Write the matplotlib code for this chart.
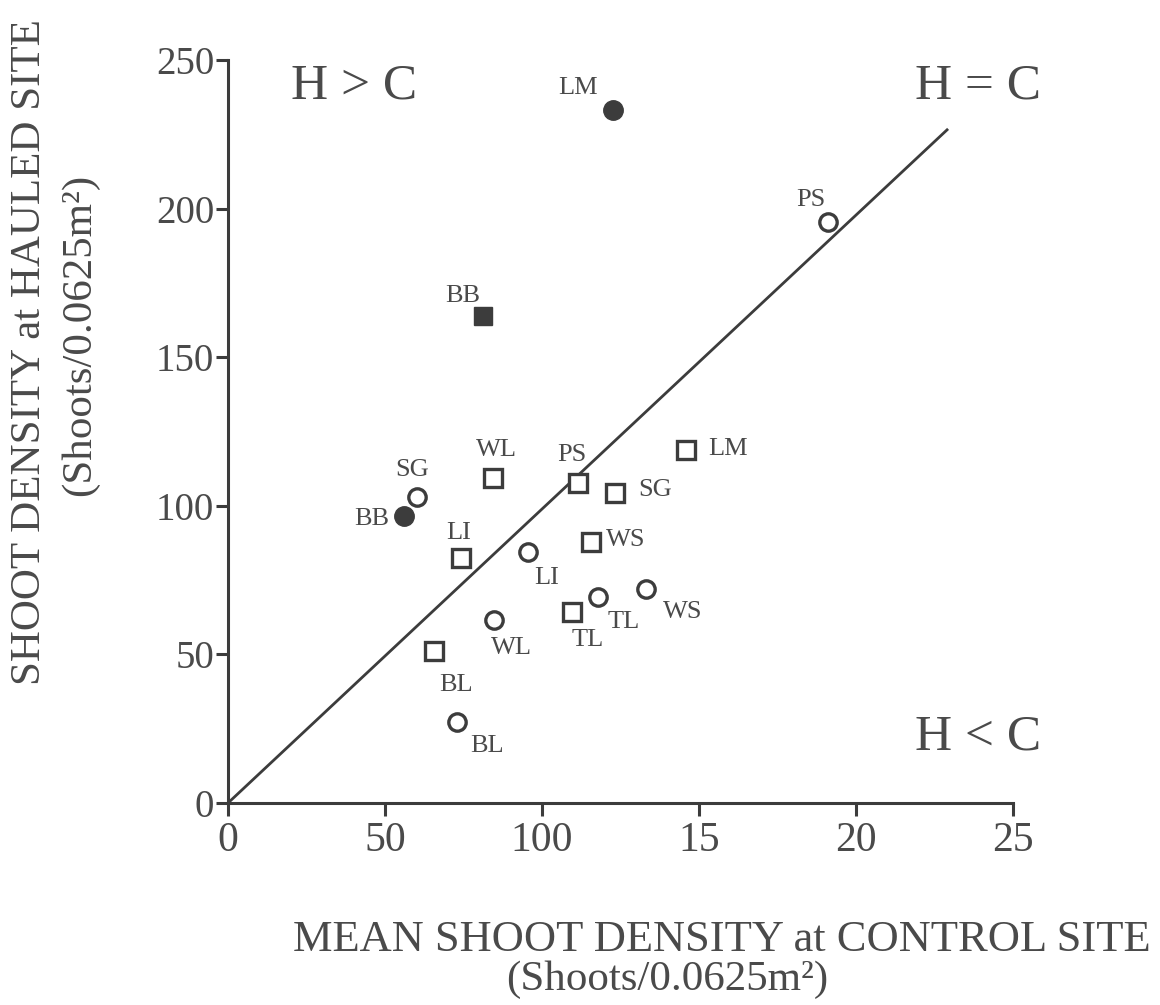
import matplotlib.pyplot as plt

plt.rcParams["font.family"] = ["Liberation Serif", "DejaVu Serif"]

# shoot densities (shoots / 0.0625 m2): control site (x) vs hauled site (y)
filled_circle_names = ["LM", "BB"]
filled_circle_x = [122.6, 56.0]
filled_circle_y = [233.2, 96.6]

filled_square_names = ["BB"]
filled_square_x = [81.2]
filled_square_y = [163.9]

open_circle_names = ["PS", "SG", "LI", "WL", "TL", "WS", "BL"]
open_circle_x = [191.0, 60.2, 95.5, 84.7, 117.8, 133.1, 72.9]
open_circle_y = [195.5, 103.0, 84.5, 61.6, 69.3, 72.0, 27.3]

open_square_names = ["WL", "PS", "LM", "SG", "WS", "LI", "TL", "BL"]
open_square_x = [84.4, 111.5, 145.9, 123.2, 115.6, 74.2, 109.6, 65.6]
open_square_y = [109.4, 107.7, 118.8, 104.3, 87.8, 82.4, 64.3, 51.1]

xtick_vals = [0, 50, 100, 150, 200, 250]
xtick_labels = ["0", "50", "100", "15", "20", "25"]
ytick_vals = [0, 50, 100, 150, 200, 250]

# label offsets (points) for each group
filled_circle_off = [(-35, 22), (-32, -3)]
filled_square_off = [(-20, 20)]
open_circle_off = [(-17, 22), (-5, 27), (19, -26), (18, -28), (26, -25), (37, -23), (30, -24)]
open_square_off = [(3, 28), (-6, 28), (42, 1), (40, 3), (35, 2), (-2, 25), (16, -28), (22, -34)]

ink = "#3c3c3c"
txt = "#4a4a4a"

fig = plt.figure(figsize=(11.6, 10.05), dpi=100)
ax = fig.add_axes([228 / 1160, 1 - 803 / 1005, 785 / 1160, 743 / 1005])
ax.set_xlim(0, 250)
ax.set_ylim(0, 250)

# H = C line
ax.plot([0, 229], [0, 226.5], color=ink, lw=2.0, clip_on=False, zorder=2)

ax.plot(filled_circle_x, filled_circle_y, "o", ms=14, mfc=ink, mec=ink, clip_on=False, zorder=3)
ax.plot(filled_square_x, filled_square_y, "s", ms=13, mfc=ink, mec=ink, clip_on=False, zorder=3)
ax.plot(open_circle_x, open_circle_y, "o", ms=12.5, mfc="white", mec=ink, mew=2.4, clip_on=False, zorder=3)
ax.plot(open_square_x, open_square_y, "s", ms=12.5, mfc="white", mec=ink, mew=2.4, clip_on=False, zorder=3)

groups = [
    (filled_circle_names, filled_circle_x, filled_circle_y, filled_circle_off),
    (filled_square_names, filled_square_x, filled_square_y, filled_square_off),
    (open_circle_names, open_circle_x, open_circle_y, open_circle_off),
    (open_square_names, open_square_x, open_square_y, open_square_off),
]
for names, xs, ys, offs in groups:
    for n, x, y, (dx, dy) in zip(names, xs, ys, offs):
        ax.annotate(n, (x, y), xytext=(dx * 0.72, dy * 0.72), textcoords="offset points",
                    ha="center", va="center", fontsize=19, color=txt)

# region labels
ax.text(20, 241, "H > C", fontsize=37, color=txt, ha="left", va="center", clip_on=False)
ax.text(259, 241, "H = C", fontsize=37, color=txt, ha="right", va="center", clip_on=False)
ax.text(259, 22, "H < C", fontsize=37, color=txt, ha="right", va="center", clip_on=False)

for s in ["top", "right"]:
    ax.spines[s].set_visible(False)
for s in ["left", "bottom"]:
    ax.spines[s].set_linewidth(2.2)
    ax.spines[s].set_color(ink)

ax.set_xticks(xtick_vals)
ax.set_xticklabels(xtick_labels)
ax.set_yticks(ytick_vals)
ax.tick_params(axis="x", length=9, width=2.2, color=ink, labelsize=30, labelcolor=txt, pad=4)
ax.tick_params(axis="y", length=9, width=2.2, color=ink, labelsize=28, labelcolor=txt, pad=1)

# axis titles
fig.text(30 / 1160, 1 - 352 / 1005, "SHOOT DENSITY at HAULED SITE", rotation=90,
         fontsize=31, color=txt, ha="center", va="center")
fig.text(80 / 1160, 1 - 335 / 1005, "(Shoots/0.0625m²)", rotation=90,
         fontsize=31, color=txt, ha="center", va="center")
fig.text(722 / 1160, 1 - 940 / 1005, "MEAN SHOOT DENSITY at CONTROL SITE",
         fontsize=32, color=txt, ha="center", va="center")
fig.text(667 / 1160, 1 - 980 / 1005, "(Shoots/0.0625m²)",
         fontsize=31, color=txt, ha="center", va="center")

fig.savefig("out.png", dpi=100, facecolor="white")
